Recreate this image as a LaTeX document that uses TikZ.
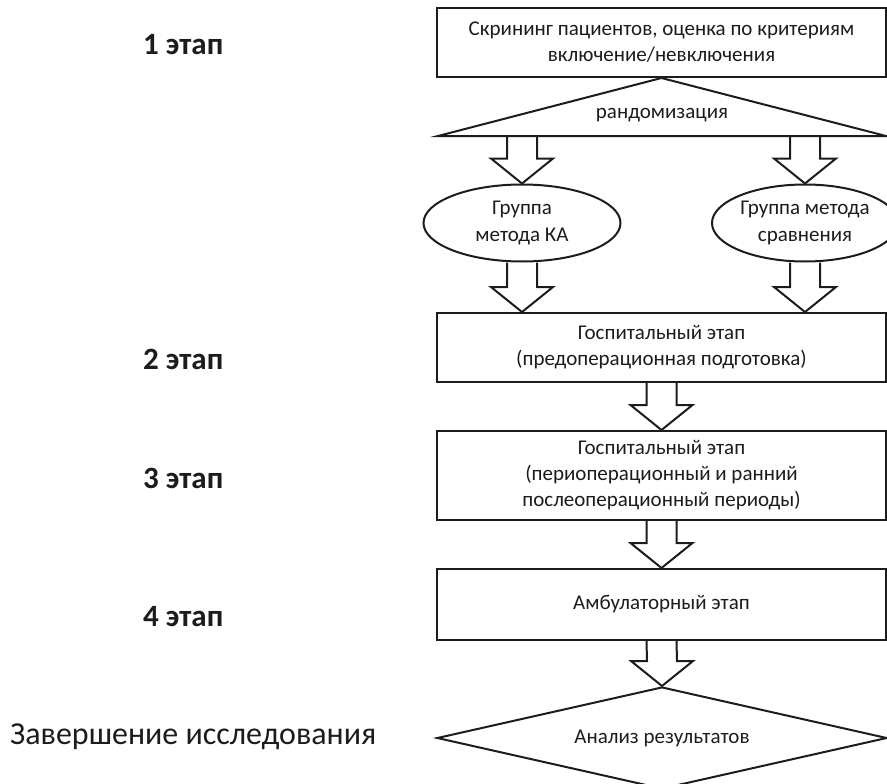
\documentclass[tikz,border=0pt]{standalone}
\usepackage{fontspec}
\setmainfont{Carlito}
\usepackage{xcolor}
\usetikzlibrary{calc,shapes.geometric}
\definecolor{inkcolore}{HTML}{1C1C1C}
\colorlet{inkcolor}{inkcolore}
\tikzstyle{stagebox} = [
    draw=inkcolor,
    line width=2pt,
    rectangle,
    minimum width=449pt,
    inner sep=0pt,
    align=center,
    text=inkcolor,
    font=\fontsize{21}{26}\selectfont
    ]
\tikzstyle{groupell} = [
    draw=inkcolor,
    line width=2pt,
    ellipse,
    inner sep=0pt,
    align=center,
    text=inkcolor,
    font=\fontsize{21}{27}\selectfont
    ]
\tikzstyle{stagelabel} = [
    anchor=west,
    inner sep=0pt,
    text=inkcolor,
    font=\fontsize{31}{34}\selectfont\bfseries
    ]
\tikzstyle{fatline} = [
    draw=inkcolor,
    line width=2pt,
    line join=miter
    ]
\newcommand{\fatarrow}[2]{% shaft start, tip
\draw[fatline] ($(#1)+(-15,0)$) -- ($(#2)+(-15,-25)$) -- ($(#2)+(-31,-25)$) -- (#2)
    -- ($(#2)+(31,-25)$) -- ($(#2)+(15,-25)$) -- ($(#1)+(15,0)$);}

\begin{document}
\begin{tikzpicture}[x=1pt,y=-1pt]
\clip (0,0) rectangle (887,784);

% stages on the left
\node[stagelabel] (st1) at (143,45) {1 этап};
\node[stagelabel] (st2) at (143,359) {2 этап};
\node[stagelabel] (st3) at (143,478) {3 этап};
\node[stagelabel] (st4) at (143,617) {4 этап};
\node[anchor=west, inner sep=0pt, text=inkcolor, font=\fontsize{32}{35}\selectfont] (fin) at (10,737)
    {Завершение исследования};

% flow
\node[stagebox, minimum height=69pt] (screen) at (661.5,42.5)
    {Скрининг пациентов, оценка по критериям\\включение/невключения};
\coordinate (randL) at (438,136);
\coordinate (randR) at (886,136);
\draw[fatline] (screen.south) -- (randL) -- (randR) -- cycle;
\node[text=inkcolor, font=\fontsize{21}{26}\selectfont] (rand) at (662,115) {рандомизация};

\node[groupell, minimum width=197pt, minimum height=77pt] (groupKA) at (522,223)
    {Группа\\метода КА};
\node[groupell, minimum width=186pt, minimum height=77pt] (groupCmp) at (805,223)
    {Группа метода\\сравнения};

\node[stagebox, minimum height=69pt] (hospPre) at (661.5,347.5)
    {Госпитальный этап\\(предоперационная подготовка)};
\node[stagebox, minimum height=89pt] (hospPeri) at (661.5,475.5)
    {Госпитальный этап\\(периоперационный и ранний\\послеоперационный периоды)};
\node[stagebox, minimum height=71pt] (ambul) at (661.5,604.5)
    {Амбулаторный этап};
\node[draw=inkcolor, line width=2pt, diamond, aspect=4.4, inner sep=0pt,
    minimum width=450pt, minimum height=102pt, text=inkcolor,
    font=\fontsize{21}{26}\selectfont] (anal) at (662,738) {Анализ результатов};

\fatarrow{groupKA.north |- randL}{groupKA.north}
\fatarrow{groupCmp.north |- randR}{groupCmp.north}
\fatarrow{groupKA.south}{groupKA.south |- hospPre.north}
\fatarrow{groupCmp.south}{groupCmp.south |- hospPre.north}
\fatarrow{hospPre.south}{hospPeri.north}
\fatarrow{hospPeri.south}{ambul.north}
\fatarrow{ambul.south}{anal.north}
\end{tikzpicture}
\end{document}
